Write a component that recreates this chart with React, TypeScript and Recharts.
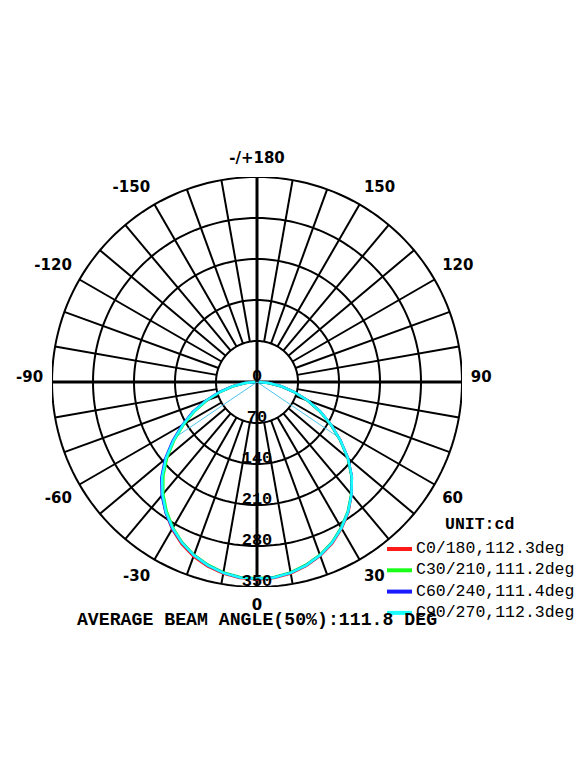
import React from "react";
import { ComposedChart, Line, XAxis, YAxis, ReferenceLine, ReferenceDot, Legend } from "recharts";

// polar intensity data (cd), gamma angle measured from nadir
const ANGLES = [
  -90, -85, -80, -75, -70, -65, -60, -55, -50, -45, -40, -35, -30, -25, -20, -15, -10, -5, 0,
  5, 10, 15, 20, 25, 30, 35, 40, 45, 50, 55, 60, 65, 70, 75, 80, 85, 90,
];
const C0_180 = [
  3, 20, 42, 66, 92, 119, 146, 174, 203, 229, 252, 272, 290, 305, 317, 326, 332, 336, 337,
  336, 332, 325, 316, 304, 289, 272, 251, 229, 203, 174, 146, 119, 92, 66, 42, 20, 3,
];
const C30_210 = [
  3, 20, 41, 65, 90, 117, 144, 172, 200, 226, 249, 269, 287, 302, 314, 323, 330, 334, 335,
  334, 330, 323, 314, 302, 287, 270, 250, 228, 202, 173, 145, 118, 91, 65, 41, 19, 3,
];
const C60_240 = [
  3, 21, 43, 67, 93, 121, 148, 176, 205, 231, 253, 272, 289, 303, 315, 324, 331, 335, 336,
  335, 331, 324, 315, 303, 288, 271, 251, 229, 203, 174, 146, 119, 92, 66, 42, 20, 3,
];
const C90_270 = [
  3, 20, 42, 66, 92, 119, 146, 174, 203, 229, 251, 271, 288, 303, 315, 324, 331, 335, 336,
  335, 331, 324, 315, 303, 288, 271, 251, 229, 203, 174, 146, 119, 92, 66, 42, 20, 3,
];

const SERIES_NAMES = ["C0/180,112.3deg", "C30/210,111.2deg", "C60/240,111.4deg", "C90/270,112.3deg"];
const SERIES_COLORS = ["#ff1a1a", "#19ff19", "#1a1aff", "#19ffff"];
const SERIES_VALUES = [C0_180, C30_210, C60_240, C90_270];

const RING_VALUES = [70, 140, 210, 280, 350];
const RADIUS_LABELS = [0, 70, 140, 210, 280, 350];
const ANGLE_TICKS = [0, 30, 60, 90, 120, 150, 180, 210, 240, 270, 300, 330];
const ANGLE_TICK_LABELS = ["0", "30", "60", "90", "120", "150", "-/+180", "-150", "-120", "-90", "-60", "-30"];
const SPOKE_ANGLES = [
  10, 20, 30, 40, 50, 60, 70, 80, 100, 110, 120, 130, 140, 150, 160, 170,
  190, 200, 210, 220, 230, 240, 250, 260, 280, 290, 300, 310, 320, 330, 340, 350,
];

const AVG_BEAM_ANGLE = 111.8;
const HALF_PEAK = 168;
const UNIT = "UNIT:cd";

const MAX = 350;
const LABEL_R = 365;
const W = 575;
const H = 769;

const MONO = '"Liberation Mono", "Courier New", monospace';
const SANS = '"DejaVu Sans", Verdana, sans-serif';

// gamma 0 points down, positive gamma to the right
function polar(deg: number, r: number) {
  const a = (deg * Math.PI) / 180;
  return { x: r * Math.sin(a), y: -r * Math.cos(a) };
}

function ringPoints(v: number) {
  return Array.from({ length: 181 }, (_, i) => polar(i * 2, v));
}

const seriesData = SERIES_VALUES.map((vals) => vals.map((v, i) => polar(ANGLES[i], v)));

const angleLabel = (text: string, deg: number) => (props: any) => {
  const { x, y } = props.viewBox;
  const s = Math.sin((deg * Math.PI) / 180);
  const c = Math.cos((deg * Math.PI) / 180);
  const anchor = s > 0.01 ? "start" : s < -0.01 ? "end" : "middle";
  const dy = c > 0.01 ? 14 : c < -0.01 ? -5 : 0;
  return (
    <text x={x} y={y + dy} textAnchor={anchor} fontFamily={SANS} fontWeight="bold" fontSize={15} fill="#000">
      {text}
    </text>
  );
};

const radiusLabel = (text: string) => (props: any) => {
  const { x, y } = props.viewBox;
  return (
    <text x={x} y={y - 1} textAnchor="middle" fontFamily={MONO} fontWeight="bold" fontSize={17} fill="#000">
      {text}
    </text>
  );
};

const renderLegend = () => (
  <svg width={205} height={125} style={{ display: "block" }}>
    <text x={65} y={21} fontFamily={MONO} fontWeight="bold" fontSize={16.5} fill="#000">
      {UNIT}
    </text>
    {SERIES_NAMES.map((name, i) => (
      <g key={name}>
        <line x1={7} x2={32} y1={41 + i * 21.3} y2={41 + i * 21.3} stroke={SERIES_COLORS[i]} strokeWidth={4} />
        <text x={36} y={45 + i * 21.3} fontFamily={MONO} fontSize={16.5} fill="#000">
          {name}
        </text>
      </g>
    ))}
  </svg>
);

export default function App() {
  const beamEnds = [-AVG_BEAM_ANGLE / 2, AVG_BEAM_ANGLE / 2].map((a) => polar(a, HALF_PEAK));

  return (
    <div style={{ position: "relative", width: W, height: H, background: "#fff" }}>
      <ComposedChart width={W} height={H} margin={{ top: 169, right: 121, bottom: 190, left: 44 }}>
        <XAxis type="number" dataKey="x" domain={[-MAX, MAX]} allowDataOverflow hide />
        <YAxis type="number" domain={[-MAX, MAX]} allowDataOverflow hide />

        {RING_VALUES.map((v) => (
          <Line
            key={`ring-${v}`}
            data={ringPoints(v)}
            dataKey="y"
            stroke="#000"
            strokeWidth={2}
            dot={false}
            activeDot={false}
            legendType="none"
            isAnimationActive={false}
          />
        ))}
        {SPOKE_ANGLES.map((a) => (
          <ReferenceLine
            key={`spoke-${a}`}
            segment={[polar(a, RING_VALUES[0]), polar(a, MAX)]}
            stroke="#000"
            strokeWidth={2}
          />
        ))}
        <ReferenceLine x={0} stroke="#000" strokeWidth={3} />
        <ReferenceLine y={0} stroke="#000" strokeWidth={3} />

        {beamEnds.map((p, i) => (
          <ReferenceLine key={`beam-${i}`} segment={[{ x: 0, y: 0 }, p]} stroke="#4cc4f0" strokeWidth={1} />
        ))}

        {seriesData.map((d, i) => (
          <Line
            key={SERIES_NAMES[i]}
            name={SERIES_NAMES[i]}
            data={d}
            dataKey="y"
            stroke={SERIES_COLORS[i]}
            strokeWidth={2.5}
            dot={false}
            activeDot={false}
            isAnimationActive={false}
          />
        ))}

        {RADIUS_LABELS.map((v) => {
          const p = polar(0, v);
          return (
            <ReferenceDot
              key={`rl-${v}`}
              x={p.x}
              y={p.y}
              r={0}
              fill="none"
              stroke="none"
              ifOverflow="visible"
              label={radiusLabel(String(v))}
            />
          );
        })}
        {ANGLE_TICKS.map((a, i) => {
          const p = polar(a, LABEL_R);
          return (
            <ReferenceDot
              key={`al-${a}`}
              x={p.x}
              y={p.y}
              r={0}
              fill="none"
              stroke="none"
              ifOverflow="visible"
              label={angleLabel(ANGLE_TICK_LABELS[i], a)}
            />
          );
        })}

        <Legend
          layout="horizontal"
          verticalAlign="middle"
          align="center"
          content={renderLegend}
          wrapperStyle={{ left: 372, top: 500, width: 205, height: 125 }}
        />
      </ComposedChart>
      <svg width={W} height={H} style={{ position: "absolute", left: 0, top: 0, pointerEvents: "none" }}>
        <text x={249} y={617} textAnchor="middle" fontFamily={MONO} fontWeight="bold" fontSize={18.2} fill="#000">
          {`AVERAGE BEAM ANGLE(50%):${AVG_BEAM_ANGLE} DEG`}
        </text>
      </svg>
    </div>
  );
}
